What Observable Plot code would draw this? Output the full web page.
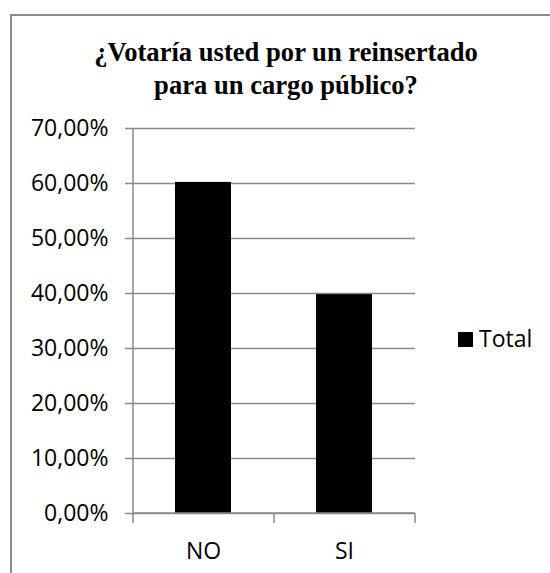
<!DOCTYPE html>
<html>
<head>
<meta charset="utf-8">
<script src="https://cdn.jsdelivr.net/npm/d3@7"></script>
<script src="https://cdn.jsdelivr.net/npm/@observablehq/plot@0.6"></script>
<style>
  html, body { margin: 0; padding: 0; background: #fff; overflow: hidden; }
  #wrap { position: relative; width: 550px; height: 573px; }
  #frame { position: absolute; left: 10px; top: 14px; width: 600px; height: 600px;
           border-left: 2px solid #8a8a8a; border-top: 2px solid #8a8a8a; }
  #title { position: absolute; left: 11px; top: 36px; width: 550px; text-align: center;
           font: bold 26.6px/33px "Liberation Serif", "Times New Roman", serif; color: #000; }
  #chart { position: absolute; left: 0; top: 100px; }
  #legend { position: absolute; left: 458px; top: 322px; font: 23px "Open Sans", sans-serif; color: #000; }
  #legend .sw { position: absolute; left: 0; top: 10px; width: 15px; height: 15px; background: #000; }
  #legend .lb { position: absolute; left: 21px; top: 0; white-space: nowrap; }
</style>
</head>
<body>
<div id="wrap">
  <div id="frame"></div>
  <div id="title">¿Votaría usted por un reinsertado<br>para un cargo público?</div>
  <div id="chart"></div>
  <div id="legend"><div class="sw"></div><div class="lb">Total</div></div>
</div>
<script>
const categories = ["NO", "SI"];
const values = [0.602, 0.398];
const yTicks = [0, 0.1, 0.2, 0.3, 0.4, 0.5, 0.6, 0.7];
const seriesName = "Total";

const gray = "#8a8a8a";
const fmt = d => (d * 100).toFixed(2).replace(".", ",") + "%";
const data = categories.map((c, i) => ({cat: c, value: values[i]}));

function axisLines(index, scales, vals, dimensions) {
  const {marginLeft, marginRight, width} = dimensions;
  const x0 = marginLeft, x1 = width - marginRight;
  const y0 = scales.y(0), yTop = scales.y(yTicks[yTicks.length - 1]);
  const n = categories.length;
  const g = d3.create("svg:g").attr("stroke", gray).attr("stroke-width", 1.5);
  g.append("line").attr("x1", x0).attr("x2", x0).attr("y1", y0).attr("y2", yTop);
  g.append("line").attr("x1", x0).attr("x2", x1).attr("y1", y0).attr("y2", y0);
  for (let i = 0; i <= n; i++) {
    const xi = x0 + i * (x1 - x0) / n;
    g.append("line").attr("x1", xi).attr("x2", xi).attr("y1", y0).attr("y2", y0 + 10);
  }
  return g.node();
}

const chart = Plot.plot({
  width: 550,
  height: 473,
  marginTop: 28,
  marginBottom: 60,
  marginLeft: 133,
  marginRight: 135,
  style: {fontFamily: "'Open Sans', sans-serif", fontSize: "23px", color: "#000", background: "transparent", overflow: "visible"},
  x: {domain: categories, paddingInner: 0.6, paddingOuter: 0.3, label: null},
  y: {domain: [0, 0.7], label: null},
  marks: [
    Plot.gridY({ticks: yTicks, stroke: gray, strokeOpacity: 1, strokeWidth: 1.5}),
    Plot.axisY({ticks: yTicks, tickSize: 8, tickPadding: 17, tickFormat: fmt, stroke: gray, strokeWidth: 1.5, fontSize: 23, label: null}),
    Plot.axisX({tickSize: 0, tickPadding: 29, fontSize: 23, label: null}),
    Plot.barY(data, {x: "cat", y: "value", fill: "#000"}),
    axisLines
  ]
});
document.getElementById("chart").appendChild(chart);
document.querySelector("#legend .lb").textContent = seriesName;
</script>
</body>
</html>
